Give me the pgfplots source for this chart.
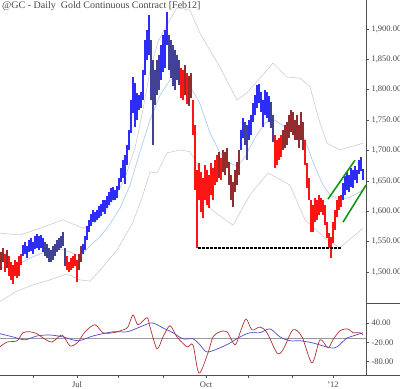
\documentclass[border=0pt]{standalone}
\usepackage{fontspec}
\setmainfont{Liberation Serif}
\usepackage{pgfplots}
\pgfplotsset{compat=1.18}
\usepackage{pgfplotstable}
\definecolor{barred}{RGB}{255,20,20}
\definecolor{bardark}{RGB}{145,45,45}
\definecolor{barblue}{RGB}{45,45,250}
\definecolor{barnavy}{RGB}{65,65,150}
\definecolor{midline}{RGB}{165,200,235}
\definecolor{bandline}{RGB}{205,205,205}
\definecolor{txtgray}{RGB}{70,70,70}
\definecolor{axgray}{RGB}{80,80,80}
\definecolor{oscred}{RGB}{175,50,50}
\definecolor{oscblue}{RGB}{75,75,205}
\definecolor{chgreen}{RGB}{20,150,20}
\definecolor{dashred}{RGB}{255,40,40}

\pgfplotstableread{
x lo hi
5 1500 1530
9 1493 1526
11 1487 1516
13 1480 1512
15 1493 1520
17 1490 1516
19 1493 1526
21 1512 1530
67 1503 1526
69 1500 1516
71 1503 1523
73 1507 1526
75 1510 1530
77 1484 1520
181 1786 1836
183 1783 1832
187 1777 1828
193 1725 1783
195 1635 1742
197 1540 1668
199 1619 1679
201 1599 1665
203 1589 1655
205 1619 1676
207 1610 1668
209 1605 1660
211 1627 1679
213 1619 1671
215 1643 1684
217 1648 1693
221 1651 1688
275 1671 1725
277 1676 1717
279 1684 1721
281 1689 1725
305 1676 1717
307 1638 1679
309 1619 1655
311 1566 1619
313 1566 1610
315 1582 1622
317 1586 1619
319 1594 1627
321 1599 1622
323 1594 1619
325 1577 1610
327 1556 1582
329 1540 1564
331 1523 1558
333 1548 1582
335 1569 1602
337 1591 1619
339 1602 1625
341 1607 1627
}\redbars

\pgfplotstableread{
x lo hi
1 1503 1533
3 1516 1539
7 1507 1536
79 1503 1530
81 1516 1543
185 1791 1841
189 1773 1822
191 1786 1828
219 1655 1697
223 1665 1701
225 1660 1697
227 1671 1704
229 1643 1681
231 1619 1660
233 1607 1648
235 1632 1668
237 1643 1681
239 1660 1701
283 1701 1734
285 1704 1742
287 1709 1747
289 1721 1758
291 1730 1767
293 1725 1763
295 1717 1750
297 1717 1758
299 1704 1742
301 1717 1763
303 1701 1747
}\darkbars

\pgfplotstableread{
x lo hi
23 1526 1544
25 1530 1549
27 1523 1543
29 1533 1553
31 1535 1556
33 1530 1549
35 1538 1559
37 1540 1563
39 1536 1559
41 1540 1561
43 1533 1556
83 1530 1546
85 1536 1559
87 1553 1576
89 1566 1586
91 1576 1595
93 1582 1602
95 1582 1599
97 1586 1602
99 1589 1609
101 1592 1612
103 1599 1619
105 1596 1619
107 1605 1625
109 1610 1632
111 1615 1638
113 1619 1640
115 1619 1635
117 1622 1641
119 1635 1655
121 1648 1671
123 1655 1684
125 1645 1693
127 1676 1709
129 1701 1734
131 1729 1783
133 1762 1821
135 1739 1811
137 1750 1795
139 1767 1791
141 1770 1796
143 1783 1832
145 1824 1882
147 1849 1898
149 1857 1923
161 1816 1874
163 1829 1890
165 1836 1898
167 1874 1928
241 1701 1734
243 1721 1753
249 1717 1750
251 1726 1758
253 1747 1778
255 1758 1791
257 1770 1808
259 1778 1809
261 1763 1796
263 1739 1783
265 1758 1800
267 1753 1796
269 1747 1790
343 1619 1646
345 1627 1658
347 1635 1665
349 1632 1660
351 1640 1671
353 1638 1668
355 1651 1674
357 1646 1668
359 1661 1684
361 1666 1689
363 1651 1669
}\bluebars

\pgfplotstableread{
x lo hi
45 1526 1549
47 1523 1546
49 1516 1540
51 1516 1536
53 1520 1543
55 1526 1546
57 1533 1553
59 1536 1556
61 1540 1559
63 1543 1566
65 1510 1540
151 1783 1882
153 1709 1849
155 1775 1832
157 1791 1849
159 1800 1857
169 1832 1890
171 1819 1882
173 1806 1874
175 1800 1865
177 1816 1857
179 1808 1849
245 1709 1747
247 1684 1742
271 1737 1780
273 1714 1758
}\navybars

\pgfplotstableread{
x y
0 1564
20 1561
40 1572
63 1586
83 1572
95 1582
105 1599
115 1622
125 1655
135 1704
143 1767
150 1832
158 1879
167 1907
177 1935
190 1931
200 1893
220 1837
237 1783
247 1795
267 1832
273 1844
287 1821
300 1819
310 1805
320 1745
327 1712
340 1701
363 1712
}\upperband

\pgfplotstableread{
x y
0 1451
15 1467
33 1479
50 1487
67 1497
80 1487
90 1485
100 1503
117 1536
133 1582
143 1627
150 1665
157 1663
167 1696
180 1701
190 1698
197 1679
203 1627
212 1602
233 1577
250 1627
268 1663
290 1643
305 1586
327 1553
340 1540
363 1572
}\lowerband

\pgfplotstableread{
x y
0 1507
18 1512
30 1523
45 1533
60 1538
70 1533
80 1526
90 1543
100 1558
110 1579
120 1605
130 1643
140 1698
150 1750
160 1791
170 1816
180 1819
190 1806
200 1777
210 1729
220 1696
230 1679
237 1674
245 1689
255 1721
265 1745
272 1753
280 1744
290 1734
300 1727
305 1717
313 1681
323 1643
330 1627
340 1619
350 1623
363 1635
}\midband

\pgfplotstableread{
x y
0 -34
7 -19
17 -15
23 10
30 13
37 7
43 -6
52 -19
62 3
70 -31
78 -19
85 13
95 35
103 10
113 10
123 19
128 28
133 66
138 35
147 57
150 28
157 -40
163 -3
170 32
177 -3
187 -34
193 -28
199 -116
208 -53
213 -3
220 13
227 13
235 -28
240 10
246 53
252 19
260 28
267 10
277 -53
283 -43
293 19
302 -3
312 -84
320 -12
328 -37
333 -12
340 16
348 22
353 10
360 10
363 3
}\oscred

\pgfplotstableread{
x y
0 7
13 -3
25 -12
37 0
50 3
63 -3
78 -15
93 0
113 13
127 13
140 28
152 41
163 25
173 10
183 -9
193 -9
200 -28
207 -50
220 -37
230 -22
240 -3
250 10
260 10
270 22
280 -3
290 -15
300 -15
313 -22
330 -37
337 -34
347 -6
353 0
363 10
}\oscblue

\pgfplotsset{
  chartbase/.style={
    scale only axis, width=366pt, xmin=0, xmax=366,
    axis line style={draw=axgray, line width=0.6pt},
    tick style={draw=axgray, line width=0.5pt},
    tick align=outside, major tick length=3pt,
    ticklabel style={font=\fontsize{8.5}{10}\selectfont, text=txtgray},
    /pgf/number format/fixed,
    /pgf/number format/fixed zerofill,
    /pgf/number format/precision=2,
    /pgf/number format/1000 sep={,},
    /pgf/number format/assume math mode=true,
  },
  pricebars/.style={color=#1, line width=1.15pt, mark=none,
    quiver={u=0, v=\thisrow{hi}-\thisrow{lo}}},
}

\begin{document}
\begin{tikzpicture}
\useasboundingbox (0pt,0pt) rectangle (400pt,389pt);
\begin{axis}[chartbase, at={(0pt,86pt)}, anchor=south west, height=303pt,
  ymin=1449, ymax=1947.7,
  axis x line=none, axis y line*=right,
  ytick={1500,1550,1600,1650,1700,1750,1800,1850,1900},
  yticklabel style={anchor=west, xshift=-1pt}]
\addplot[bandline, line width=0.6pt] table {\upperband};
\addplot[bandline, line width=0.6pt] table {\lowerband};
\addplot[midline, line width=0.6pt] table {\midband};
\addplot[only marks, mark=square*, mark size=1.2pt,
  mark options={draw=none, fill=dashred, yscale=0.5}] coordinates {
(199,1540) (203,1540) (207,1540) (211,1540) (215,1540) (219,1540) (223,1540) (227,1540)
(231,1540) (235,1540) (239,1540) (243,1540) (247,1540) (251,1540) (255,1540) (259,1540)
(263,1540) (267,1540) (271,1540) (275,1540) (279,1540) (283,1540) (287,1540) (291,1540)
(295,1540) (299,1540) (303,1540) (307,1540) (311,1540) (315,1540) (319,1540) (323,1540)
(327,1540) (331,1540) (335,1540) (339,1540)};
\addplot[pricebars=barred] table[x=x, y=lo] {\redbars};
\addplot[pricebars=bardark] table[x=x, y=lo] {\darkbars};
\addplot[pricebars=barblue] table[x=x, y=lo] {\bluebars};
\addplot[pricebars=barnavy] table[x=x, y=lo] {\navybars};
\addplot[chgreen, line width=1.6pt] coordinates {(328,1620) (355,1684)};
\addplot[chgreen, line width=1.6pt] coordinates {(343,1582) (366,1643)};
\end{axis}
\begin{axis}[chartbase, at={(0pt,14pt)}, anchor=south west, height=72pt,
  ymin=-122, ymax=103,
  axis x line*=bottom, axis y line*=right,
  ytick={40,-20,-80},
  yticklabel style={anchor=west, xshift=-1pt},
  xtick={33,77,118,163,206,248,292,333},
  xticklabels={,Jul,,,Oct,,,'12}]
\addplot[black!40, line width=0.6pt] coordinates {(0,-6) (366,-6)};
\addplot[oscblue, line width=0.7pt, smooth] table {\oscblue};
\addplot[oscred, line width=0.7pt, smooth] table {\oscred};
\end{axis}
\draw[axgray, line width=0.6pt] (366pt,86pt) -- (400pt,86pt);
\draw[axgray, line width=0.6pt] (366pt,14pt) -- (400pt,14pt);
\node[anchor=north west, inner sep=0pt, text=txtgray, font=\fontsize{10}{12}\selectfont] at (2pt,388pt) {@GC - Daily\ \ Gold Continuous Contract [Feb12]};
\end{tikzpicture}
\end{document}
